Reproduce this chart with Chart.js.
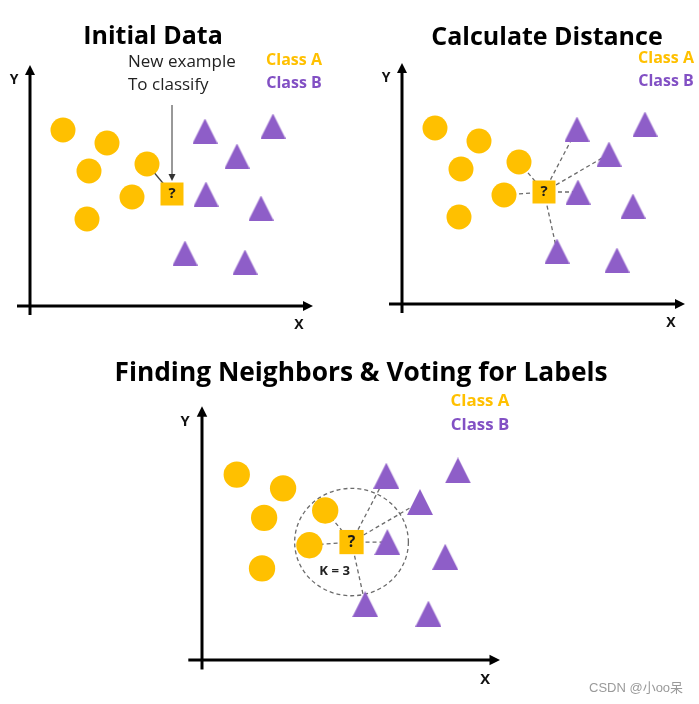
<!DOCTYPE html>
<html>
<head>
<meta charset="utf-8">
<script src="https://cdn.jsdelivr.net/npm/chart.js@4.4.1/dist/chart.umd.min.js"></script>
<style>
    body { margin: 0; background: #fff; width: 699px; height: 704px; position: relative; overflow: hidden; }
    canvas { position: absolute; }
    #mark { position: absolute; left: 589px; top: 680px; font: 13px "Liberation Sans", "Noto Sans CJK SC", sans-serif; color: #9a9a9a; line-height: 16px; }
</style>
</head>
<body>
<canvas id="initial" width="350" height="340" style="left:0;top:0"></canvas>
<canvas id="distance" width="349" height="340" style="left:350px;top:0"></canvas>
<canvas id="vote" width="677" height="359" style="left:22px;top:345px"></canvas>
<div id="mark">CSDN @小oo呆</div>
<script>
// class A samples (circles)
const classAX = [33, 77, 59, 117, 102, 57];
const classAY = [176, 163, 135, 142, 109, 87];
// class B samples (triangles)
const classBX = [175, 243, 207, 176, 231, 155, 215];
const classBY = [175, 180, 150, 112, 98, 53, 44];
// the new example to classify
const queryX = [142];
const queryY = [112];
// neighbours joined to the query by dashed lines
const nearA = [3, 4];
const nearB = [0, 2, 3, 5];
// axis extents and the K-neighbourhood ring
const axisXRange = [-13, 283];
const axisYRange = [-9, 241];
const kRadius = [54, 51];
const legendLabels = ['Class A', 'Class B'];
const titles = ['Initial Data', 'Calculate Distance', 'Finding Neighbors & Voting for Labels'];
const noteLines = ['New example', 'To classify'];
const kLabel = 'K = 3';

const ORANGE = '#FFC000';
const PURPLE = '#8E5EC8';
const FONT = '"Open Sans", sans-serif';

const panels = [
    {id: 'initial', w: 350, h: 340, ox: 30, oy: 306, k: 1, title: titles[0], titleAt: [123, 269], mode: 'arrow'},
    {id: 'distance', w: 349, h: 340, ox: 52, oy: 304, k: 1, title: titles[1], titleAt: [145, 266], mode: 'links'},
    {id: 'vote', w: 677, h: 359, ox: 180, oy: 315, k: 1.053, title: titles[2], titleAt: [151, 272], mode: 'links', ring: true},
];

/** triangle marker, as tall as it is wide */
let makeTriangle = (k) => {
    let size = Math.round(25 * k);
    let c = document.createElement('canvas');
    c.width = size;
    c.height = size;
    let ctx = c.getContext('2d');
    ctx.fillStyle = PURPLE;
    ctx.beginPath();
    ctx.moveTo(size / 2, 0);
    ctx.lineTo(size, size);
    ctx.lineTo(0, size);
    ctx.closePath();
    ctx.fill();
    return c;
};

let toPx = (chart, x, y) => [chart.scales.x.getPixelForValue(x), chart.scales.y.getPixelForValue(y)];

let arrow = (ctx, x1, y1, x2, y2, width, head, half, color) => {
    let ang = Math.atan2(y2 - y1, x2 - x1);
    ctx.save();
    ctx.strokeStyle = color;
    ctx.fillStyle = color;
    ctx.lineWidth = width;
    ctx.beginPath();
    ctx.moveTo(x1, y1);
    ctx.lineTo(x2 - Math.cos(ang) * head * 0.8, y2 - Math.sin(ang) * head * 0.8);
    ctx.stroke();
    ctx.translate(x2, y2);
    ctx.rotate(ang);
    ctx.beginPath();
    ctx.moveTo(0, 0);
    ctx.lineTo(-head, -half);
    ctx.lineTo(-head, half);
    ctx.closePath();
    ctx.fill();
    ctx.restore();
};

let text = (ctx, str, x, y, size, weight, color, align) => {
    ctx.save();
    ctx.font = weight + ' ' + size + 'px ' + FONT;
    ctx.fillStyle = color;
    ctx.textAlign = align || 'center';
    ctx.textBaseline = 'middle';
    ctx.fillText(str, x, y);
    ctx.restore();
};

const knnDecor = {
    id: 'knnDecor',
    beforeDatasetsDraw(chart, args, p) {
        if (!p.ring) return;
        let ctx = chart.ctx;
        let [cx, cy] = toPx(chart, queryX[0], queryY[0]);
        let rx = chart.scales.x.getPixelForValue(kRadius[0]) - chart.scales.x.getPixelForValue(0);
        let ry = chart.scales.y.getPixelForValue(0) - chart.scales.y.getPixelForValue(kRadius[1]);
        ctx.save();
        ctx.strokeStyle = '#6b6b6b';
        ctx.lineWidth = 1.3;
        ctx.setLineDash([4, 3]);
        ctx.beginPath();
        ctx.ellipse(cx, cy, rx, ry, 0, 0, Math.PI * 2);
        ctx.stroke();
        ctx.restore();
    },
    afterDatasetsDraw(chart, args, p) {
        let ctx = chart.ctx;
        let k = p.k;

        // axes with arrow heads
        let [ax0, ay0] = toPx(chart, axisXRange[0], 0);
        let [ax1] = toPx(chart, axisXRange[1], 0);
        arrow(ctx, ax0, ay0, ax1, ay0, 3, 10 * k, 5 * k, '#000');
        let [bx0, by0] = toPx(chart, 0, axisYRange[0]);
        let [, by1] = toPx(chart, 0, axisYRange[1]);
        arrow(ctx, bx0, by0, bx0, by1, 3, 10 * k, 5 * k, '#000');

        let [yx, yy] = toPx(chart, -16, 226);
        text(ctx, 'Y', yx, yy, 14 * k, 'bold', '#111');
        let [xx, xy] = toPx(chart, 269, -19);
        text(ctx, 'X', xx, xy, 14 * k, 'bold', '#111');

        // title and class legend
        let [tx, ty] = toPx(chart, p.titleAt[0], p.titleAt[1]);
        text(ctx, p.title, tx, ty, 25 * k, 'bold', '#000');
        let [lx, la] = toPx(chart, 264, 246);
        let [, lb] = toPx(chart, 264, 223);
        text(ctx, legendLabels[0], lx, la, 16 * k, 'bold', ORANGE);
        text(ctx, legendLabels[1], lx, lb, 16 * k, 'bold', '#8250C4');

        // question mark on the new example
        let [qx, qy] = toPx(chart, queryX[0], queryY[0]);
        text(ctx, '?', qx, qy, 15 * k, 'bold', '#1a1a1a');

        if (p.mode === 'arrow') {
            let [nx, n1] = toPx(chart, 98, 244);
            let [, n2] = toPx(chart, 98, 221);
            text(ctx, noteLines[0], nx, n1, 17, 'normal', '#222', 'left');
            text(ctx, noteLines[1], nx, n2, 17, 'normal', '#222', 'left');
            let [sx, sy] = toPx(chart, queryX[0], 201);
            let [, ey] = toPx(chart, queryX[0], 125);
            arrow(ctx, sx, sy, sx, ey, 1, 7, 3.5, '#333');
        }
        if (p.ring) {
            let [kx, ky] = toPx(chart, 126, 84);
            text(ctx, kLabel, kx, ky, 12.5 * k, 'bold', '#222');
        }
    }
};

let link = (x, y, dashed) => ({
    data: [{x: queryX[0], y: queryY[0]}, {x: x, y: y}],
    showLine: true,
    borderColor: dashed ? '#6b6b6b' : '#444',
    borderWidth: 1.3,
    borderDash: dashed ? [4, 3] : [],
    pointRadius: 0,
    order: 2,
});

panels.forEach(p => {
    let datasets = [
        {
            label: legendLabels[0],
            data: classAX.map((x, i) => ({x: x, y: classAY[i]})),
            pointStyle: 'circle',
            pointRadius: 12.5 * p.k,
            backgroundColor: ORANGE,
            borderWidth: 0,
            order: 1,
        },
        {
            label: legendLabels[1],
            data: classBX.map((x, i) => ({x: x, y: classBY[i]})),
            pointStyle: makeTriangle(p.k),
            pointRadius: 13 * p.k,
            backgroundColor: PURPLE,
            borderWidth: 0,
            order: 1,
        },
        {
            label: 'New example',
            data: queryX.map((x, i) => ({x: x, y: queryY[i]})),
            pointStyle: 'rect',
            pointRadius: 11.5 * Math.SQRT2 * p.k,
            backgroundColor: ORANGE,
            borderWidth: 0,
            order: 0,
        },
    ];
    if (p.mode === 'arrow') {
        datasets.push(link(classAX[3], classAY[3], false));
    } else {
        nearA.forEach(i => datasets.push(link(classAX[i], classAY[i], true)));
        nearB.forEach(i => datasets.push(link(classBX[i], classBY[i], true)));
    }

    new Chart(document.getElementById(p.id), {
        type: 'scatter',
        data: {datasets: datasets},
        options: {
            responsive: false,
            animation: false,
            events: [],
            layout: {padding: 0, autoPadding: false},
            scales: {
                x: {type: 'linear', display: false, min: -p.ox / p.k, max: (p.w - p.ox) / p.k},
                y: {type: 'linear', display: false, min: -(p.h - p.oy) / p.k, max: p.oy / p.k},
            },
            plugins: {
                legend: {display: false},
                tooltip: {enabled: false},
                knnDecor: p,
            },
        },
        plugins: [knnDecor],
    });
});
</script>
</body>
</html>
